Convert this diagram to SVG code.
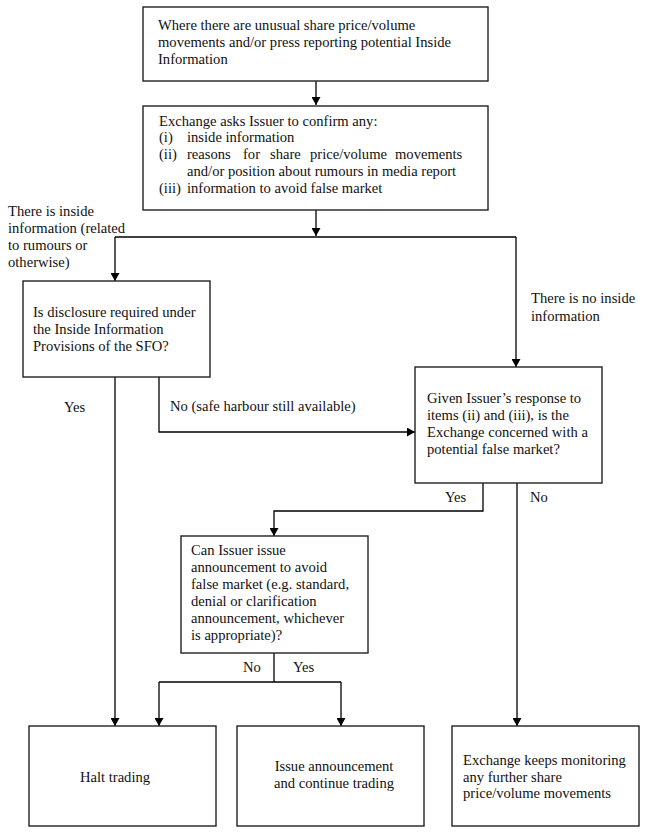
<svg xmlns="http://www.w3.org/2000/svg" width="649" height="835" viewBox="0 0 649 835">
<defs>
<marker id="ah" markerWidth="8" markerHeight="9" refX="8" refY="4.5" orient="auto" markerUnits="userSpaceOnUse">
<path d="M0,0 L8,4.5 L0,9 Z" fill="#000"/>
</marker>
<style>
.box{fill:#fff;stroke:#222;stroke-width:1.4}
.ln{fill:none;stroke:#000;stroke-width:1.3}
.ar{fill:none;stroke:#000;stroke-width:1.3;marker-end:url(#ah)}
text{font-family:"Liberation Serif","Times New Roman",serif;font-size:14.6px;fill:#111}
</style>
</defs>
<rect width="649" height="835" fill="#fff"/>
<g id="connectors">
<path class="ar" d="M316,81 V105"/>
<path class="ar" d="M316,210 V236"/>
<path class="ln" d="M115,237 H516"/>
<path class="ar" d="M115,237 V281"/>
<path class="ar" d="M516,237 V367"/>
<path class="ar" d="M115,377 V726"/>
<path class="ar" d="M159,377 V432 H415"/>
<path class="ar" d="M483,483 V511 H274 V536"/>
<path class="ar" d="M517,483 V726"/>
<path class="ln" d="M274,653 V682"/>
<path class="ln" d="M159,682 H341"/>
<path class="ar" d="M159,682 V726"/>
<path class="ar" d="M341,682 V726"/>
</g>
<g id="labels">
<text x="8" y="216">There is inside</text>
<text x="8" y="233">information (related</text>
<text x="8" y="250">to rumours or</text>
<text x="8" y="267">otherwise)</text>
<text x="531" y="303">There is no inside</text>
<text x="531" y="321">information</text>
<text x="64" y="412">Yes</text>
<text x="170" y="411">No (safe harbour still available)</text>
<text x="445" y="502">Yes</text>
<text x="530" y="502">No</text>
<text x="243" y="672">No</text>
<text x="293" y="672">Yes</text>
</g>
<g id="start">
<rect class="box" x="143" y="7" width="345" height="74"/>
<text x="158" y="30">Where there are unusual share price/volume</text>
<text x="158" y="47">movements and/or press reporting potential Inside</text>
<text x="158" y="64">Information</text>
</g>
<g id="ask">
<rect class="box" x="143" y="106" width="345" height="104"/>
<text x="159" y="126">Exchange asks Issuer to confirm any:</text>
<text x="159" y="142">(i)</text>
<text x="187" y="142">inside information</text>
<text x="159" y="159">(ii)</text>
<text y="159"><tspan x="187">reasons</tspan><tspan x="243">for</tspan><tspan x="270">share</tspan><tspan x="310">price/volume</tspan><tspan x="395">movements</tspan></text>
<text x="187" y="176">and/or position about rumours in media report</text>
<text x="159" y="193">(iii)</text>
<text x="187" y="193">information to avoid false market</text>
</g>
<g id="disclosure">
<rect class="box" x="23" y="281" width="187" height="96"/>
<text x="33" y="317">Is disclosure required under</text>
<text x="33" y="334">the Inside Information</text>
<text x="33" y="351">Provisions of the SFO?</text>
</g>
<g id="concerned">
<rect class="box" x="415" y="367" width="187" height="116"/>
<text x="427" y="403">Given Issuer’s response to</text>
<text x="427" y="420">items (ii) and (iii), is the</text>
<text x="427" y="437">Exchange concerned with a</text>
<text x="427" y="454">potential false market?</text>
</g>
<g id="announce">
<rect class="box" x="181" y="536" width="187" height="117"/>
<text x="191" y="555">Can Issuer issue</text>
<text x="191" y="572">announcement to avoid</text>
<text x="191" y="589">false market (e.g. standard,</text>
<text x="191" y="606">denial or clarification</text>
<text x="191" y="623">announcement, whichever</text>
<text x="191" y="640">is appropriate)?</text>
</g>
<g id="halt">
<rect class="box" x="29" y="726" width="187" height="100"/>
<text x="115" y="782" text-anchor="middle">Halt trading</text>
</g>
<g id="issue">
<rect class="box" x="237" y="726" width="187" height="100"/>
<text x="334" y="771" text-anchor="middle">Issue announcement</text>
<text x="334" y="788" text-anchor="middle">and continue trading</text>
</g>
<g id="monitor">
<rect class="box" x="452" y="726" width="187" height="100"/>
<text x="463" y="765">Exchange keeps monitoring</text>
<text x="463" y="782">any further share</text>
<text x="463" y="798">price/volume movements</text>
</g>
</svg>
